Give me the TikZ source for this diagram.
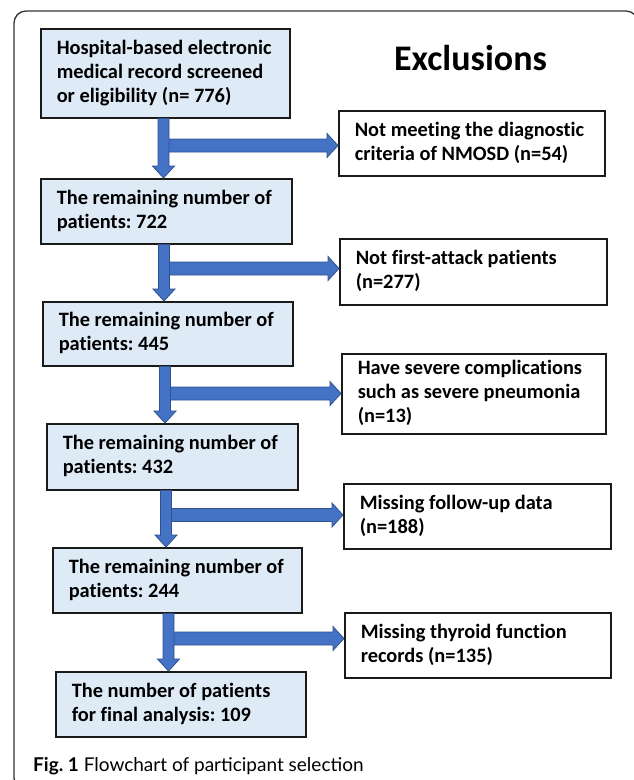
\documentclass[tikz,border=0pt]{standalone}
\usepackage{fontspec}
\setmainfont{Carlito}[Ligatures=NoCommon]
\newfontfamily\capfont{Lato}
\usetikzlibrary{calc}
\definecolor{boxfill}{HTML}{DEEBF7}
\definecolor{arrfill}{HTML}{4472C4}
\definecolor{arrline}{HTML}{2F528F}
\definecolor{edgecol}{HTML}{1A1A1A}
\frenchspacing
\newcommand{\boxlines}[2]{\makebox[#1][l]{\begin{tabular}{@{}l@{}}#2\end{tabular}}}
\tikzset{
  leftbox/.style={draw=edgecol, line width=1.5pt, fill=boxfill, anchor=north west,
    inner xsep=16pt, inner ysep=0pt,
    font=\bfseries\fontsize{20.4}{24}\selectfont},
  rightbox/.style={leftbox, fill=white},
  blk/.style={fill=arrfill, draw=arrline, line width=0.8pt, line join=miter},
}
% vertical block arrow: upper node, lower node, x
\newcommand{\vblk}[3]{%
  \filldraw[blk] let \p1=(#3,0 |- #1.south), \p2=(#3,0 |- #2.north) in
   (\x1-5.5pt,\y1) -- (\x1+5.5pt,\y1) -- (\x1+5.5pt,\y2+12pt) -- (\x1+11pt,\y2+12pt)
   -- (\x1,\y2) -- (\x1-11pt,\y2+12pt) -- (\x1-5.5pt,\y2+12pt) -- cycle;}
% horizontal block arrow: x of shaft, target node, y
\newcommand{\hblk}[3]{%
  \filldraw[blk] let \p1=(#1,#3), \p2=(#2.west |- 0,#3) in
   (\x1,\y1+6.5pt) -- (\x2-11pt,\y1+6.5pt) -- (\x2-11pt,\y1+12pt) -- (\x2,\y1)
   -- (\x2-11pt,\y1-12pt) -- (\x2-11pt,\y1-6.5pt) -- (\x1,\y1-6.5pt) -- cycle;}
\begin{document}
\begin{tikzpicture}[x=1pt,y=-1pt]
\useasboundingbox (0,0) rectangle (633,780);
\fill[white] (0,0) rectangle (633,780);
\draw[line width=1.3pt, black!80, rounded corners=12pt] (14,11) rectangle (638,790);

\node[font=\bfseries\fontsize{36}{40}\selectfont, anchor=base] (ex) at (470.5,70) {Exclusions};

\node[leftbox, minimum height=89pt] (b1) at (40,28)
  {\boxlines{217pt}{Hospital-based electronic\\medical record screened\\or eligibility (n= 776)}};
\node[leftbox, minimum height=65pt] (b2) at (40,178)
  {\boxlines{219pt}{The remaining number of\\patients: 722}};
\node[leftbox, minimum height=64pt] (b3) at (42,301)
  {\boxlines{218pt}{The remaining number of\\patients: 445}};
\node[leftbox, minimum height=66pt] (b4) at (46,423)
  {\boxlines{219pt}{The remaining number of\\patients: 432}};
\node[leftbox, minimum height=65pt] (b5) at (52,547)
  {\boxlines{217pt}{The remaining number of\\patients: 244}};
\node[leftbox, minimum height=65pt] (b6) at (55,671)
  {\boxlines{218pt}{The number of patients\\for final analysis: 109}};

\node[rightbox, minimum height=65pt] (r1) at (338,110)
  {\boxlines{234pt}{Not meeting the diagnostic\\criteria of NMOSD (n=54)}};
\node[rightbox, minimum height=66pt] (r2) at (339,238)
  {\boxlines{235pt}{Not first-attack patients\\(n=277)}};
\node[rightbox, minimum height=80pt] (r3) at (341,353)
  {\boxlines{232pt}{Have severe complications\\such as severe pneumonia\\(n=13)}};
\node[rightbox, minimum height=65pt] (r4) at (343,483)
  {\boxlines{235pt}{Missing follow-up data\\(n=188)}};
\node[rightbox, minimum height=65pt] (r5) at (344,612)
  {\boxlines{234pt}{Missing thyroid function\\records (n=135)}};

\hblk{163.5}{r1}{145.5}
\vblk{b1}{b2}{163.5}
\hblk{164}{r2}{268.5}
\vblk{b2}{b3}{164}
\hblk{165}{r3}{393.5}
\vblk{b3}{b4}{165}
\hblk{166}{r4}{515}
\vblk{b4}{b5}{166}
\hblk{168.5}{r5}{638.5}
\vblk{b5}{b6}{168.5}

\node[font=\capfont\fontsize{19}{22}\selectfont, anchor=base west, inner sep=0pt] (cap) at (33,771)
  {\textbf{Fig. 1} Flowchart of participant selection};
\end{tikzpicture}
\end{document}
